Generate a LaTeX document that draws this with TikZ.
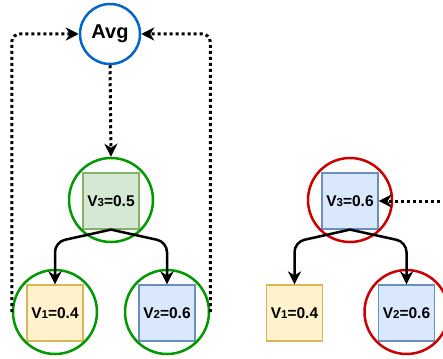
\documentclass[tikz,border=0pt]{standalone}
\usepackage{fontspec}
\setmainfont{Liberation Sans}
\usetikzlibrary{arrows.meta}
\definecolor{gfill}{HTML}{D5E8D4}\definecolor{gdraw}{HTML}{82B366}
\definecolor{yfill}{HTML}{FFF2CC}\definecolor{ydraw}{HTML}{D6B656}
\definecolor{bfill}{HTML}{DAE8FC}\definecolor{bdraw}{HTML}{6C8EBF}
\definecolor{cgreen}{HTML}{009900}\definecolor{cblue}{HTML}{0066CC}\definecolor{cred}{HTML}{CC0000}
\newcommand{\vl}[2]{\textbf{V{\fontsize{11.5}{11.5}\selectfont #1}=#2}}
\tikzset{
  sq/.style={draw, line width=1.2pt, minimum size=56pt, inner sep=0pt, font=\fontsize{15.5}{17}\selectfont},
  ring/.style={circle, draw, line width=2.5pt, minimum size=84pt, inner sep=0pt},
  dots/.style={line width=3pt, dash pattern=on 3pt off 3pt, rounded corners=8pt, -{Stealth[length=13pt,width=13pt,inset=4pt]}},
  solid arr/.style={line width=2.5pt, rounded corners=10pt, -{Stealth[length=13pt,width=13pt,inset=4pt]}},
}
\begin{document}
\begin{tikzpicture}[x=1pt,y=-1pt]
\clip (0,0) rectangle (443,358);
\fill[white] (0,0) rectangle (443,358);
% left tree
\node[sq, fill=gfill, draw=gdraw] (v3) at (111,201) {\vl{3}{0.5}};
\node[ring, draw=cgreen] (c3) at (111,200) {};
\node[sq, fill=yfill, draw=ydraw] (v1) at (55,313) {\vl{1}{0.4}};
\node[ring, draw=cgreen] (c1) at (55,312) {};
\node[sq, fill=bfill, draw=bdraw] (v2) at (167,313) {\vl{2}{0.6}};
\node[ring, draw=cgreen] (c2) at (167,312) {};
\node[circle, draw=cblue, line width=2.5pt, minimum size=60pt, inner sep=0pt, font=\bfseries\fontsize{20}{22}\selectfont] (avg) at (110,34) {Avg};
\draw[solid arr] (v3.south) -- (55,242) -- (v1.north);
\draw[solid arr] (v3.south) -- (167,242) -- (v2.north);
\draw[dots] (avg.south) -- (c3.north);
\draw[dots] (c1.west) -- (c1.west |- avg.west) -- (avg.west);
\draw[dots] (c2.east) -- (c2.east |- avg.east) -- (avg.east);
% right tree
\node[sq, fill=bfill, draw=bdraw] (w3) at (350,201) {\vl{3}{0.6}};
\node[ring, draw=cred] (d3) at (350,200) {};
\node[sq, fill=yfill, draw=ydraw] (w1) at (294.5,313) {\vl{1}{0.4}};
\node[sq, fill=bfill, draw=bdraw] (w2) at (406.5,313) {\vl{2}{0.6}};
\node[ring, draw=cred] (d2) at (406.5,312) {};
\draw[solid arr] (w3.south) -- (294.5,242) -- (w1.north);
\draw[solid arr] (w3.south) -- (406.5,242) -- (w2.north);
\coordinate (src) at (452,201);
\draw[dots] (src) -- (w3.east);
\end{tikzpicture}
\end{document}
